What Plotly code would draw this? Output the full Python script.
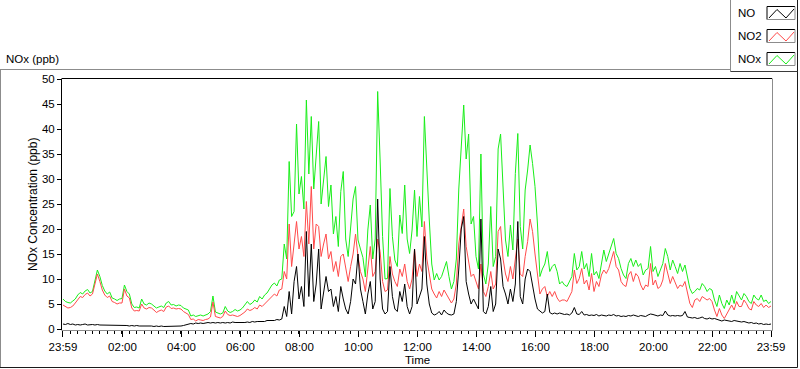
import plotly.graph_objects as go
import pandas as pd

# ---------------- data (5-minute samples, 23:59 -> 23:59 next day) ----------------
start_time = "2000-01-01 23:59"
n_samples = 289

nox = (
    [6.0, 5.5, 5.3, 5.2, 5.6, 6.0, 6.8, 7.3, 7.0, 7.6, 7.9, 7.2] +
    [7.5, 9.5, 11.8, 10.5, 8.7, 7.6, 7.0, 7.4, 6.2, 6.0, 5.7, 6.0] +
    [6.1, 8.8, 7.5, 7.0, 5.0, 4.3, 4.4, 4.2, 6.0, 5.0, 4.8, 5.2] +
    [5.0, 4.6, 4.2, 4.4, 4.6, 4.3, 5.2, 5.5, 4.8, 4.9, 4.6, 4.8] +
    [4.7, 4.2, 4.0, 3.8, 2.6, 2.8, 2.5, 2.7, 2.8, 2.6, 2.8, 3.0] +
    [3.5, 6.6, 3.4, 3.2, 3.0, 3.2, 4.5, 3.6, 3.3, 3.5, 3.9, 3.6] +
    [3.8, 4.2, 4.8, 5.5, 4.9, 5.2, 5.8, 5.4, 6.5, 6.0, 6.8, 7.2] +
    [8.0, 8.8, 9.2, 8.6, 9.8, 10.0, 17.0, 14.0, 33.5, 22.5, 23.5, 41.0] +
    [27.0, 30.5, 24.0, 45.8, 31.0, 42.5, 28.0, 35.5, 41.5, 25.0, 30.0, 34.5] +
    [24.5, 28.8, 19.0, 22.5, 16.5, 27.5, 31.5, 18.0, 14.5, 21.0, 26.0, 28.5] +
    [17.8, 16.0, 14.3, 10.4, 19.8, 24.8, 14.0, 18.0, 47.5, 33.8, 18.5, 10.0] +
    [10.1, 28.1, 18.5, 13.8, 12.5, 22.8, 19.1, 28.8, 18.0, 15.1, 19.8, 27.8] +
    [18.5, 26.5, 20.4, 42.5, 31.5, 21.8, 13.0, 9.8, 11.1, 9.8, 10.5, 11.8] +
    [13.5, 10.5, 8.0, 9.5, 14.0, 28.0, 36.0, 44.8, 34.0, 39.0, 21.0, 22.5] +
    [14.5, 12.0, 35.0, 11.0, 9.0, 13.0, 24.5, 12.5, 14.5, 36.0, 39.0, 27.0] +
    [17.8, 14.5, 20.8, 15.8, 31.1, 39.1, 20.5, 16.0, 27.8, 31.8, 36.8, 33.1] +
    [28.5, 21.0, 10.5, 12.0, 13.0, 15.5, 11.5, 12.5, 13.0, 11.5, 9.0, 9.5] +
    [8.8, 8.5, 9.5, 10.5, 15.1, 11.8, 12.5, 15.5, 12.0, 13.1, 10.5, 15.1] +
    [10.8, 11.5, 10.1, 13.1, 15.8, 13.5, 15.1, 16.8, 18.1, 15.1, 14.1, 12.1] +
    [10.8, 10.1, 13.1, 14.1, 12.5, 13.8, 12.5, 13.1, 10.8, 11.8, 12.1, 16.5] +
    [11.5, 12.5, 10.5, 11.8, 13.1, 16.1, 14.5, 11.8, 13.8, 12.5, 11.1, 13.1] +
    [11.5, 12.8, 10.1, 8.1, 7.1, 7.5, 8.1, 7.8, 9.1, 8.5, 7.5, 8.1] +
    [7.8, 5.8, 4.5, 6.8, 5.1, 4.1, 5.8, 4.8, 6.8, 5.1, 7.5, 6.5] +
    [5.8, 7.1, 6.5, 5.5, 5.1, 6.8, 6.1, 5.8, 6.8, 5.5, 5.8, 5.1, 5.5]
)

no2 = (
    [4.8, 4.5, 4.2, 4.3, 4.6, 5.2, 5.8, 6.5, 6.3, 6.9, 7.2, 6.6] +
    [7.0, 9.0, 11.0, 9.5, 7.8, 6.8, 6.3, 6.6, 5.5, 5.3, 5.0, 5.2] +
    [5.2, 8.0, 6.6, 6.2, 4.2, 3.6, 3.7, 3.6, 5.0, 4.2, 4.0, 4.3] +
    [4.2, 3.8, 3.3, 3.6, 3.8, 3.5, 4.4, 4.6, 4.1, 4.2, 4.0, 4.1] +
    [4.0, 3.5, 3.2, 2.9, 1.9, 2.0, 1.6, 1.9, 1.8, 1.7, 1.9, 2.0] +
    [2.4, 5.4, 2.5, 2.4, 2.2, 2.5, 3.6, 2.9, 2.7, 2.8, 2.6, 2.5] +
    [2.7, 3.0, 3.4, 4.0, 3.7, 3.9, 4.3, 4.0, 4.8, 4.5, 5.0, 5.4] +
    [6.0, 6.6, 7.0, 6.6, 7.8, 8.0, 11.5, 10.0, 21.0, 12.5, 16.5, 21.5] +
    [16.0, 18.5, 14.5, 25.5, 17.0, 28.5, 16.0, 21.0, 20.5, 14.5, 17.0, 19.0] +
    [14.0, 15.5, 11.5, 13.5, 10.5, 14.5, 15.0, 12.0, 9.5, 12.5, 15.0, 19.0] +
    [14.5, 11.5, 10.0, 7.5, 12.5, 16.5, 10.5, 11.5, 18.0, 15.5, 9.5, 7.5] +
    [7.8, 14.5, 11.0, 9.5, 8.5, 12.0, 10.5, 13.0, 9.5, 8.0, 10.0, 16.0] +
    [10.5, 13.0, 11.5, 21.5, 14.0, 11.0, 8.0, 7.0, 6.2, 7.5, 6.5, 7.8] +
    [7.0, 6.0, 5.2, 6.0, 9.0, 17.0, 21.0, 24.0, 16.5, 13.0, 10.5, 11.0] +
    [9.5, 8.0, 13.0, 7.5, 6.5, 8.5, 11.5, 8.0, 9.0, 19.5, 20.5, 14.0] +
    [11.0, 9.5, 12.5, 10.0, 14.0, 18.0, 11.0, 10.5, 14.5, 17.5, 22.0, 19.5] +
    [15.0, 11.0, 7.0, 8.0, 8.5, 6.5, 7.5, 6.5, 7.5, 6.2, 5.5, 5.8] +
    [5.8, 5.5, 6.5, 7.5, 11.8, 9.1, 10.1, 12.1, 9.0, 9.8, 7.8, 11.1] +
    [7.5, 9.5, 8.5, 10.8, 11.8, 11.1, 12.1, 13.8, 15.5, 12.5, 11.8, 9.5] +
    [8.8, 8.5, 10.8, 11.5, 9.5, 11.1, 10.5, 8.8, 7.8, 8.8, 8.5, 13.1] +
    [8.8, 9.8, 8.1, 8.5, 9.8, 13.1, 11.1, 9.1, 10.5, 9.1, 8.1, 8.8] +
    [8.5, 9.5, 7.5, 5.1, 4.3, 5.8, 6.1, 5.5, 6.5, 6.1, 5.8, 6.1] +
    [5.5, 3.8, 2.5, 4.1, 2.8, 2.1, 3.1, 3.8, 4.8, 3.8, 5.5, 4.5] +
    [4.5, 5.8, 5.1, 4.1, 3.8, 5.5, 4.8, 4.5, 5.1, 4.3, 4.8, 4.3, 4.6]
)

no = (
    [1.0, 0.9, 1.1, 0.9, 1.0, 0.8, 0.9, 0.8, 0.9, 1.0, 0.8, 0.9] +
    [0.9, 0.8, 0.9, 0.8, 0.8, 0.7, 0.8, 0.7, 0.8, 0.7, 0.7, 0.8] +
    [0.8, 0.7, 0.7, 0.6, 0.7, 0.6, 0.7, 0.6, 0.6, 0.7, 0.6, 0.6] +
    [0.6, 0.5, 0.6, 0.5, 0.6, 0.5, 0.5, 0.6, 0.5, 0.6, 0.5, 0.6] +
    [0.6, 0.7, 0.8, 0.9, 1.1, 1.0, 1.2, 1.1, 1.2, 1.1, 1.2, 1.3] +
    [1.2, 1.3, 1.2, 1.3, 1.2, 1.3, 1.2, 1.3, 1.2, 1.4, 1.3, 1.3] +
    [1.3, 1.2, 1.3, 1.4, 1.3, 1.5, 1.4, 1.5, 1.5, 1.6, 1.5, 1.7] +
    [1.7, 1.8, 1.7, 1.9, 1.8, 2.0, 4.5, 2.5, 7.5, 3.0, 9.5, 12.5] +
    [6.0, 8.5, 4.5, 19.5, 6.5, 17.0, 5.5, 9.0, 16.0, 4.0, 7.5, 10.5] +
    [7.5, 8.0, 4.5, 6.5, 3.5, 8.5, 6.0, 4.0, 3.0, 5.5, 10.0, 9.0] +
    [15.0, 8.0, 5.5, 3.0, 7.0, 9.5, 4.0, 5.5, 26.0, 10.0, 4.0, 3.0] +
    [3.5, 12.5, 6.5, 4.0, 3.5, 7.5, 5.5, 9.0, 4.5, 3.0, 4.5, 16.0] +
    [5.0, 6.5, 8.0, 18.5, 9.0, 5.0, 3.2, 2.8, 3.0, 3.5, 2.8, 3.8] +
    [3.2, 2.9, 2.8, 3.0, 5.5, 12.0, 20.0, 22.5, 9.5, 7.0, 5.0, 6.0] +
    [5.0, 4.0, 22.0, 3.5, 3.0, 4.5, 8.5, 3.5, 5.0, 16.0, 14.0, 8.5] +
    [7.0, 5.0, 8.0, 5.5, 9.0, 21.5, 6.5, 5.0, 10.0, 12.0, 11.5, 8.5] +
    [6.0, 4.0, 3.5, 3.2, 3.5, 7.0, 3.3, 3.0, 3.2, 3.0, 3.2, 3.0] +
    [2.9, 3.0, 2.8, 3.2, 4.3, 3.0, 2.9, 3.5, 2.8, 2.9, 2.7, 2.8] +
    [2.7, 2.9, 2.6, 2.8, 2.7, 2.6, 2.8, 2.7, 2.9, 2.6, 2.7, 2.5] +
    [2.6, 2.5, 2.7, 2.6, 2.8, 2.6, 2.5, 2.7, 2.6, 2.5, 2.8, 3.0] +
    [2.9, 2.7, 2.6, 2.8, 2.7, 3.6, 2.8, 2.6, 2.7, 2.6, 2.7, 2.6] +
    [2.7, 3.5, 2.4, 2.3, 2.2, 2.3, 2.1, 2.2, 2.4, 2.1, 2.0, 2.2] +
    [2.0, 2.1, 1.9, 1.8, 1.6, 1.8, 1.7, 1.6, 1.5, 1.7, 1.6, 1.5] +
    [1.4, 1.5, 1.3, 1.2, 1.3, 1.1, 1.2, 1.0, 1.1, 0.9, 1.0, 0.9, 1.0]
)

tick_times = ["2000-01-01 23:59", "2000-01-02 02:00", "2000-01-02 04:00", "2000-01-02 06:00",
              "2000-01-02 08:00", "2000-01-02 10:00", "2000-01-02 12:00", "2000-01-02 14:00",
              "2000-01-02 16:00", "2000-01-02 18:00", "2000-01-02 20:00", "2000-01-02 22:00",
              "2000-01-02 23:59"]
tick_labels = ["23:59", "02:00", "04:00", "06:00", "08:00", "10:00", "12:00", "14:00",
               "16:00", "18:00", "20:00", "22:00", "23:59"]
y_ticks = [0, 5, 10, 15, 20, 25, 30, 35, 40, 45, 50]

series_names = ["NO", "NO2", "NOx"]
series_colors = ["#000000", "#ff4a4a", "#19ee19"]

times = pd.date_range(start_time, periods=n_samples, freq="5min")

# ---------------- figure ----------------
FONT = "Liberation Sans, Arial, sans-serif"
W, H = 800, 369
L, R, T, B = 62, 772, 79, 330


def PX(px):
    return (px - L) / (R - L)


def PY(py):
    return (B - py) / (B - T)


fig = go.Figure()
for name, vals, col in [("NOx", nox, series_colors[2]), ("NO2", no2, series_colors[1]), ("NO", no, series_colors[0])]:
    fig.add_trace(go.Scatter(x=times, y=vals, mode="lines", name=name,
                             line=dict(color=col, width=1), showlegend=False))

shapes = []


def line(x0, y0, x1, y1, color, width=1):
    shapes.append(dict(type="line", xref="paper", yref="paper",
                       x0=PX(x0), y0=PY(y0), x1=PX(x1), y1=PY(y1),
                       line=dict(color=color, width=width), layer="above"))


# outer frame
line(0, 69.5, 730, 69.5, "#8c8c8c")
line(0.5, 69.5, 0.5, 367.5, "#8c8c8c")
line(0, 367.5, 797.5, 367.5, "#1a1a1a")
line(797.5, 0, 797.5, 367.5, "#1a1a1a")
# legend box border
line(730.5, 0, 730.5, 71.5, "#8c8c8c")
line(730.5, 71.5, 797.5, 71.5, "#3a3a3a")
# plot frame (sunken)
line(L, T - 0.5, R, T - 0.5, "#000000")
line(L - 0.5, T - 0.5, L - 0.5, B, "#000000")
line(R + 0.5, T - 0.5, R + 0.5, B + 0.5, "#8c8c8c")
line(L - 0.5, B + 0.5, R + 0.5, B + 0.5, "#8c8c8c")

annotations = []
# legend entries
legend_rows = [("NO", 13, series_colors[0]), ("NO2", 36, series_colors[1]), ("NOx", 59, series_colors[2])]
for label, cy, col in legend_rows:
    annotations.append(dict(text=label, xref="paper", yref="paper", x=PX(736), y=PY(cy),
                            xanchor="left", yanchor="middle", showarrow=False,
                            font=dict(family=FONT, size=11.5, color="#000000")))
    bx0, bx1, by0, by1 = 767, 795, cy - 6.5, cy + 6.5
    line(bx0, by0, bx1, by0, "#000000")
    line(bx0, by0, bx0, by1, "#000000")
    line(bx0, by1, bx1, by1, "#8c8c8c")
    line(bx1, by0, bx1, by1, "#8c8c8c")
    pts = [(769, cy + 5), (777, cy - 3.5), (786, cy + 5), (794, cy - 4)]
    path = "M " + " L ".join(f"{PX(a):.5f},{PY(b):.5f}" for a, b in pts)
    shapes.append(dict(type="path", xref="paper", yref="paper", path=path,
                       line=dict(color=col, width=1)))

annotations.append(dict(text="NOx (ppb)", xref="paper", yref="paper", x=PX(4), y=PY(59),
                        xanchor="left", yanchor="middle", showarrow=False,
                        font=dict(family=FONT, size=11.5, color="#000000")))
annotations.append(dict(text="Time", xref="paper", yref="paper", x=PX(417), y=PY(360),
                        xanchor="center", yanchor="middle", showarrow=False,
                        font=dict(family=FONT, size=11.5, color="#000000")))
annotations.append(dict(text="NOx Concentration (ppb)", xref="paper", yref="paper", x=PX(33), y=PY(205),
                        xanchor="center", yanchor="middle", showarrow=False, textangle=-90,
                        font=dict(family=FONT, size=12, color="#000000")))

x_start = pd.Timestamp(tick_times[0]) - pd.Timedelta(minutes=2)
x_end = pd.Timestamp(tick_times[-1]) + pd.Timedelta(minutes=2)

fig.update_layout(
    width=W, height=H,
    margin=dict(l=L, r=W - R, t=T, b=H - B, pad=0),
    paper_bgcolor="white", plot_bgcolor="white",
    font=dict(family=FONT, size=11.5, color="#000000"),
    shapes=shapes, annotations=annotations,
    xaxis=dict(type="date", range=[x_start, x_end], tickmode="array",
               tickvals=tick_times, ticktext=tick_labels,
               ticks="outside", ticklen=6, tickcolor="#000000", tickwidth=1,
               showgrid=False, zeroline=False, showline=False,
               minor=dict(ticks="outside", ticklen=3, tickcolor="#000000",
                          dtick=15 * 60 * 1000, tick0=tick_times[0], showgrid=False),
               tickfont=dict(family=FONT, size=11.5, color="#000000")),
    yaxis=dict(range=[-0.2, 50], tickmode="array", tickvals=y_ticks,
               ticks="outside", ticklen=4, tickcolor="#000000", tickwidth=1,
               showgrid=False, zeroline=False, showline=False,
               tickfont=dict(family=FONT, size=11.5, color="#000000")),
)

fig.write_html("out.html", config={"displayModeBar": False},
               post_script="document.body.style.margin='0px';document.body.style.padding='0px';"
                           "document.body.style.overflow='hidden';")
